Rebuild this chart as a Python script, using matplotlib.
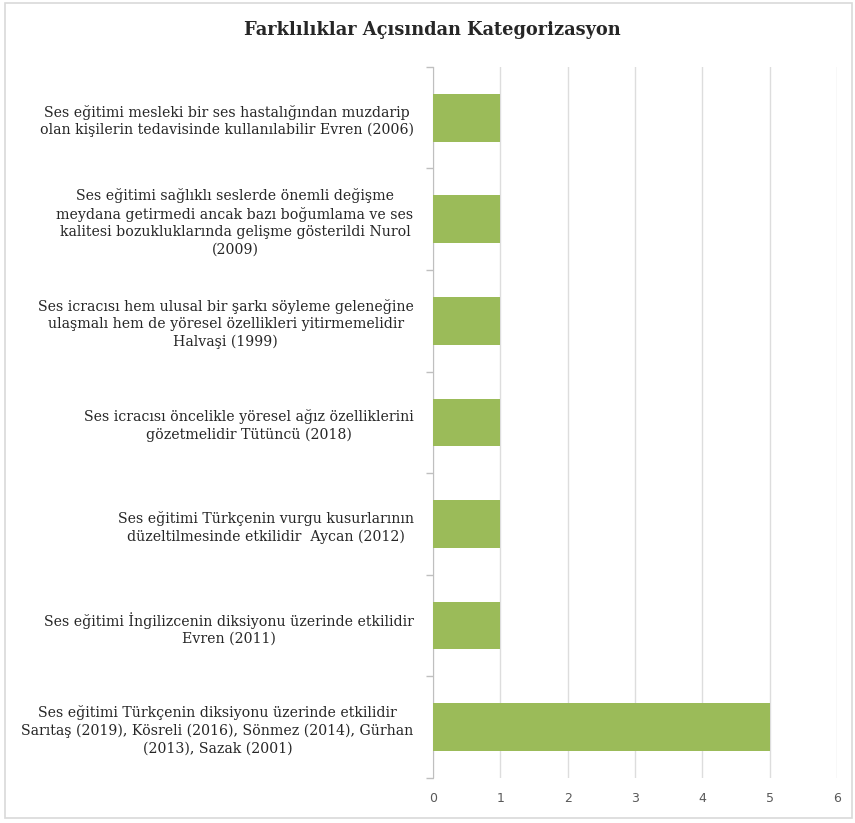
import numpy as np
import matplotlib
matplotlib.use("Agg")
import matplotlib.pyplot as plt
from matplotlib.patches import Rectangle

# Categories (top to bottom) and counts
categories = [
    "Ses eğitimi mesleki bir ses hastalığından muzdarip\nolan kişilerin tedavisinde kullanılabilir Evren (2006)",
    "Ses eğitimi sağlıklı seslerde önemli değişme\nmeydana getirmedi ancak bazı boğumlama ve ses\nkalitesi bozukluklarında gelişme gösterildi Nurol\n(2009)",
    "Ses icracısı hem ulusal bir şarkı söyleme geleneğine\nulaşmalı hem de yöresel özellikleri yitirmemelidir\nHalvaşi (1999)",
    "Ses icracısı öncelikle yöresel ağız özelliklerini\ngözetmelidir Tütüncü (2018)",
    "Ses eğitimi Türkçenin vurgu kusurlarının\ndüzeltilmesinde etkilidir  Aycan (2012)",
    "Ses eğitimi İngilizcenin diksiyonu üzerinde etkilidir\nEvren (2011)",
    "Ses eğitimi Türkçenin diksiyonu üzerinde etkilidir\nSarıtaş (2019), Kösreli (2016), Sönmez (2014), Gürhan\n(2013), Sazak (2001)",
]
counts = [1, 1, 1, 1, 1, 1, 5]
x_ticks = [0, 1, 2, 3, 4, 5, 6]

title = "Farklılıklar Açısından Kategorizasyon"
bar_color = "#9BBB59"
grid_color = "#DDDDDD"

fig = plt.figure(figsize=(8.55, 8.23), dpi=100)
ax = fig.add_axes([0.5064, 0.0547, 0.4725, 0.864])

y = np.arange(len(categories))
ax.barh(y, counts, height=0.47, color=bar_color, zorder=3)

ax.set_xlim(0, 6)
ax.set_ylim(len(categories) - 0.5, -0.5)
ax.set_xticks(x_ticks)
ax.xaxis.grid(True, color=grid_color, linewidth=1.0, zorder=0)
ax.tick_params(axis="x", length=0, pad=10, labelsize=9, labelcolor="#595959")

# category labels
ax.set_yticks(y)
ax.set_yticklabels(categories, family="DejaVu Serif", fontsize=10.2,
                   multialignment="center", linespacing=1.3, color="#262626")
ax.tick_params(axis="y", which="major", length=0, pad=14)
# boundary ticks between categories
ax.set_yticks(np.arange(-0.5, len(categories), 1), minor=True)
ax.tick_params(axis="y", which="minor", length=5, color="#BFBFBF", width=1)

for side in ["top", "right", "bottom"]:
    ax.spines[side].set_visible(False)
ax.spines["left"].set_color("#BFBFBF")

fig.text(0.506, 0.963, title, ha="center", va="center",
         family="DejaVu Serif", fontweight="bold", fontsize=12.8, color="#262626")

# outer chart border
fig.patches.append(Rectangle((0.006, 0.006), 0.99, 0.99, transform=fig.transFigure,
                             fill=False, edgecolor="#D9D9D9", linewidth=1.2))

fig.savefig("out.png", dpi=100)
